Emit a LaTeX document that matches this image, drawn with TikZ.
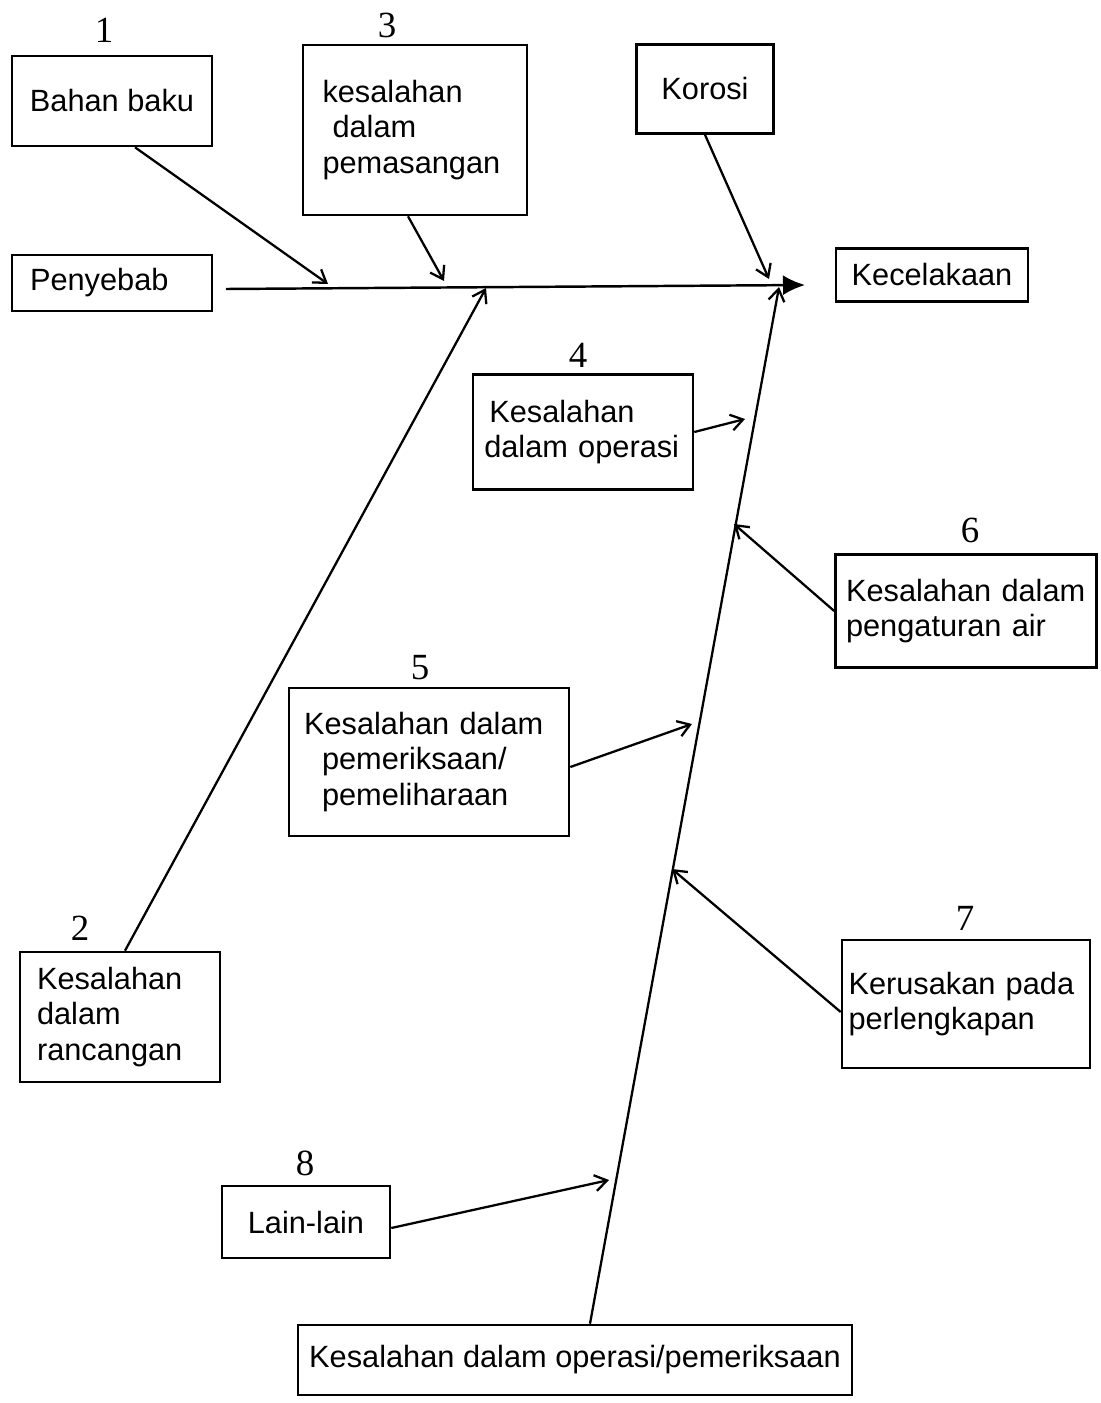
\documentclass[tikz,border=0pt]{standalone}
\usepackage{fontspec}
\setmainfont{Liberation Serif}
\setsansfont{Liberation Sans}
\usetikzlibrary{arrows.meta}

\begin{document}
\begin{tikzpicture}[x=0.02cm, y=-0.02cm,
        kotak/.style={draw, line width=1.5pt, inner sep=0pt, align=left, font=\sffamily\fontsize{17.5}{20}\selectfont},
        nomor/.style={font=\fontsize{21}{24}\selectfont},
        panah/.style={line width=1.3pt, -{Straight Barb[length=2.4mm,width=3.2mm]}}]
        \useasboundingbox (0,0) rectangle (1100,1403);
        % kotak-kotak
        \node[kotak, minimum width=4cm, minimum height=1.8cm] (bahan) at (112,101) {Bahan baku};
        \node[kotak, minimum width=4.48cm, minimum height=3.4cm, text width=3.7cm] (pasang) at (415,130) {kesalahan\\\hspace*{0.2cm}dalam\\pemasangan};
        \node[kotak, minimum width=2.74cm, minimum height=1.78cm] (korosi) at (705,89) {Korosi};
        \node[kotak, minimum width=4cm, minimum height=1.12cm, text width=3.28cm] (sebab) at (112,283) {Penyebab};
        \node[kotak, minimum width=3.84cm, minimum height=1.06cm] (celaka) at (932,275) {Kecelakaan};
        \node[kotak, minimum width=4.4cm, minimum height=2.3cm, text width=3.95cm] (operasi) at (583,432) {\hspace*{0.1cm}Kesalahan\\dalam operasi};
        \node[kotak, minimum width=5.22cm, minimum height=2.26cm, text width=4.8cm] (air) at (966,611) {Kesalahan dalam\\pengaturan air};
        \node[kotak, minimum width=5.6cm, minimum height=2.96cm, text width=5cm] (periksa) at (429,762) {Kesalahan dalam\\\hspace*{0.36cm}pemeriksaan/\\\hspace*{0.36cm}pemeliharaan};
        \node[kotak, minimum width=4cm, minimum height=2.6cm, text width=3.32cm] (rancang) at (120,1017) {Kesalahan\\dalam\\rancangan};
        \node[kotak, minimum width=4.96cm, minimum height=2.56cm, text width=4.7cm] (rusak) at (966,1004) {Kerusakan pada\\perlengkapan};
        \node[kotak, minimum width=3.36cm, minimum height=1.44cm] (lain) at (306,1222) {Lain-lain};
        \node[kotak, minimum width=11.08cm, minimum height=1.4cm] (bawah) at (575,1360) {Kesalahan dalam operasi/pemeriksaan};
        % nomor
        \node[nomor] (n1) at (104,30) {1};
        \node[nomor] (n2) at (80,928) {2};
        \node[nomor] (n3) at (387,25) {3};
        \node[nomor] (n4) at (578,355) {4};
        \node[nomor] (n5) at (420,668) {5};
        \node[nomor] (n6) at (970,530) {6};
        \node[nomor] (n7) at (965,918) {7};
        \node[nomor] (n8) at (305,1163) {8};
        % titik pada garis
        \coordinate (pangkal) at (226,289);
        \coordinate (ujung) at (805,285);
        \coordinate (s1) at (328,284);
        \coordinate (s2) at (486,288);
        \coordinate (s3) at (444,281);
        \coordinate (s4) at (769,279);
        \coordinate (puncak) at (779,287);
        \coordinate (t4) at (745,419);
        \coordinate (t5) at (692,724);
        \coordinate (t6) at (734,524);
        \coordinate (t7) at (672,869);
        \coordinate (t8) at (609,1180);
        % garis utama
        \draw[line width=1.4pt, -{Latex[length=4.4mm,width=4mm]}] (pangkal) -- (ujung);
        \draw[panah] ([xshift=0.3cm]bawah.north) -- (puncak);
        \draw[panah] ([xshift=0.1cm]rancang.north) -- (s2);
        % panah penyebab
        \draw[panah] ([xshift=0.46cm]bahan.south) -- (s1);
        \draw[panah] ([xshift=-0.14cm]pasang.south) -- (s3);
        \draw[panah] (korosi.south) -- (s4);
        \draw[panah] (operasi.east) -- (t4);
        \draw[panah] (air.west) -- (t6);
        \draw[panah] ([yshift=-0.1cm]periksa.east) -- (t5);
        \draw[panah] ([yshift=-0.16cm]rusak.west) -- (t7);
        \draw[panah] ([yshift=-0.12cm]lain.east) -- (t8);
\end{tikzpicture}
\end{document}
